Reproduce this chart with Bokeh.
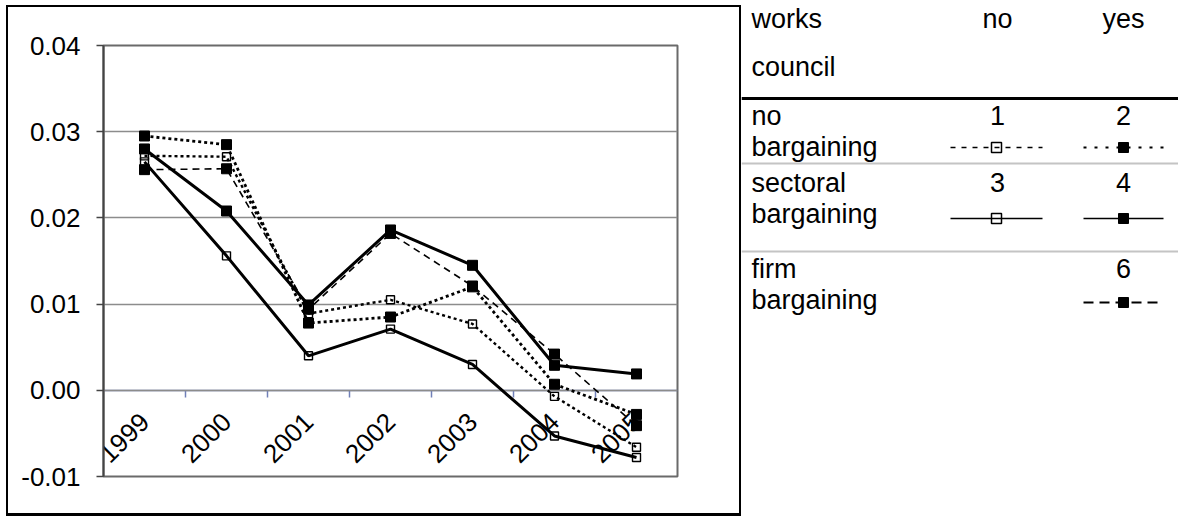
import math
from bokeh.plotting import figure
from bokeh.models import Range1d, FixedTicker, LinearAxis, PrintfTickFormatter
from bokeh.layouts import row
from bokeh.embed import file_html
from bokeh.resources import INLINE
from bokeh.core.properties import value

# ---------------- data ----------------
years = [1999, 2000, 2001, 2002, 2003, 2004, 2005]
s1_none_nowc = [0.0272, 0.0271, 0.0089, 0.0105, 0.0077, -0.0007, -0.0066]
s2_none_wc = [0.0295, 0.0285, 0.0078, 0.0085, 0.0120, 0.0007, -0.0028]
s3_sect_nowc = [0.0265, 0.0156, 0.0040, 0.0071, 0.0030, -0.0053, -0.0078]
s4_sect_wc = [0.0280, 0.0208, 0.0099, 0.0186, 0.0145, 0.0029, 0.0019]
s6_firm_wc = [0.0256, 0.0257, 0.0094, 0.0182, 0.0121, 0.0042, -0.0041]
y_ticks = [-0.01, 0.0, 0.01, 0.02, 0.03, 0.04]

# legend table texts
header_left = ["works", "council"]
header_cols = ["no", "yes"]
row_labels = [["no", "bargaining"], ["sectoral", "bargaining"], ["firm", "bargaining"]]
row_numbers = [["1", "2"], ["3", "4"], [None, "6"]]

FONT = value("Liberation Sans")
FS = "26px"
LFS = "27px"

# series styles: (values, dash, width, filled, legend dash, legend width)
series = {
    "1": (s1_none_nowc, "3 3", 2.4, False, "5 6", 1.6),
    "2": (s2_none_wc, "3 3", 2.8, True, "3 8", 2.0),
    "3": (s3_sect_nowc, "solid", 3.0, False, "solid", 1.6),
    "4": (s4_sect_wc, "solid", 3.0, True, "solid", 1.6),
    "6": (s6_firm_wc, "7 5", 1.6, True, "10 6", 2.0),
}

# ---------------- chart ----------------
W, H = 735, 511
p = figure(width=W, height=H, output_backend="svg", toolbar_location=None,
           x_range=Range1d(years[0] - 0.5, years[-1] + 0.5),
           y_range=Range1d(y_ticks[0], y_ticks[-1]),
           min_border_left=97, min_border_right=64, min_border_top=40, min_border_bottom=40,
           margin=(5, 0, 0, 6))
p.frame_align = False
p.border_fill_color = None
p.background_fill_color = "white"
p.outline_line_color = "#6a6a6a"
p.outline_line_width = 2
p.styles = {"box-shadow": "inset 2px 0 0 0 #000, inset -2px 0 0 0 #000, inset 0 2px 0 0 #000, inset 0 -3px 0 0 #000"}

# y axis
ya = p.yaxis[0]
ya.ticker = FixedTicker(ticks=y_ticks)
ya.formatter = PrintfTickFormatter(format="%.2f")
ya.axis_line_color = "#444444"
ya.axis_line_width = 2
ya.major_tick_line_color = "#444444"
ya.major_tick_line_width = 1.5
ya.major_tick_out = 7
ya.major_tick_in = 0
ya.minor_tick_line_color = None
ya.major_label_text_font = "Liberation Sans"
ya.major_label_text_font_size = FS
ya.major_label_text_color = "black"
ya.major_label_standoff = 16

p.ygrid.ticker = FixedTicker(ticks=y_ticks)
p.ygrid.grid_line_color = "#8c8c8c"
p.ygrid.grid_line_width = 1.5
p.xgrid.visible = False

# x axis: boundary ticks at y = 0
xa = p.xaxis[0]
xa.ticker = FixedTicker(ticks=[y + 0.5 for y in years[:-1]])
xa.fixed_location = 0
xa.axis_line_color = "#6070a8"
xa.axis_line_width = 1.5
xa.major_tick_line_color = "#7080b8"
xa.major_tick_line_width = 1.5
xa.major_tick_out = 7
xa.major_tick_in = 0
xa.minor_tick_line_color = None
xa.major_label_text_color = None
xa.level = "underlay"

# x labels (rotated) at category centers
xl = LinearAxis(ticker=FixedTicker(ticks=years), fixed_location=0)
xl.axis_line_color = None
xl.major_tick_line_color = None
xl.minor_tick_line_color = None
xl.major_label_orientation = math.pi / 4
xl.major_label_text_font = "Liberation Sans"
xl.major_label_text_font_size = FS
xl.major_label_text_color = "black"
xl.major_label_standoff = 21
xl.level = "underlay"
p.add_layout(xl, "below")

for key in ["1", "2", "6", "3", "4"]:
    vals, dash, lw, filled, _, _ = series[key]
    p.line(years, vals, line_color="black", line_width=lw, line_dash=dash)
for key in ["1", "2", "6", "3", "4"]:
    vals, dash, lw, filled, _, _ = series[key]
    if filled:
        p.scatter(years, vals, marker="square", size=10, fill_color="black", line_color="black")
    else:
        p.scatter(years, vals, marker="square", size=8, fill_color=None, line_color="black", line_width=1.4)

# ---------------- legend table ----------------
LW, LH = 1178 - 741, 519
q = figure(width=LW, height=LH, output_backend="svg", toolbar_location=None,
           x_range=Range1d(0, LW), y_range=Range1d(LH, 0),
           x_axis_type=None, y_axis_type=None,
           min_border_left=0, min_border_right=0, min_border_top=0, min_border_bottom=0)
q.frame_align = False
q.outline_line_color = None
q.grid.visible = False
q.background_fill_color = "white"
q.border_fill_color = "white"

left_x = 10
col_x = [256, 382]
head_base = [18, 66]
row_base = [115, 182, 268]
line_gap = 31
sym_y = [147, 218, 302]
rule_y = [98, 163, 251]

# header
q.text(x=[left_x, left_x], y=head_base, text=header_left, text_font=FONT, text_font_size=LFS,
       text_baseline="alphabetic", text_align="left", text_color="black")
q.text(x=col_x, y=[head_base[0]] * 2, text=header_cols, text_font=FONT, text_font_size=LFS,
       text_baseline="alphabetic", text_align="center", text_color="black")
# rules
q.segment(x0=[0], y0=[rule_y[0]], x1=[LW], y1=[rule_y[0]], line_color="black", line_width=3)
q.segment(x0=[0, 0], y0=rule_y[1:], x1=[LW, LW], y1=rule_y[1:], line_color="#c4c4c4", line_width=2)

# rows
for i, labels in enumerate(row_labels):
    q.text(x=[left_x, left_x], y=[row_base[i], row_base[i] + line_gap], text=labels,
           text_font=FONT, text_font_size=LFS, text_baseline="alphabetic", text_align="left",
           text_color="black")
    for j, num in enumerate(row_numbers[i]):
        if num is None:
            continue
        q.text(x=[col_x[j]], y=[row_base[i]], text=[num], text_font=FONT, text_font_size=LFS,
               text_baseline="alphabetic", text_align="center", text_color="black")
        vals, dash, lw, filled, ldash, llw = series[num]
        half = 46 if j == 0 else 40
        cx = col_x[j] + (-1 if j == 0 else 0)
        q.segment(x0=[cx - half], y0=[sym_y[i]], x1=[cx + half], y1=[sym_y[i]],
                  line_color="black", line_width=llw, line_dash=ldash)
        if filled:
            q.scatter([cx], [sym_y[i]], marker="square", size=10, fill_color="black", line_color="black")
        else:
            q.scatter([cx], [sym_y[i]], marker="square", size=10, fill_color=None,
                      line_color="black", line_width=1.5)

layout = row(p, q)
open("out.html", "w").write(file_html(layout, INLINE))
